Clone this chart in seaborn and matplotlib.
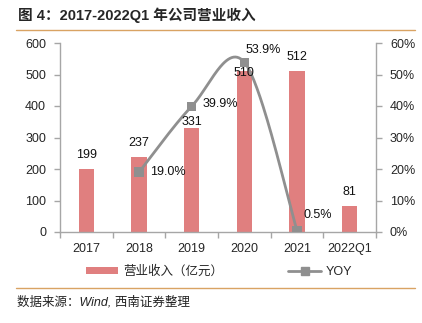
import numpy as np
import pandas as pd
import matplotlib
matplotlib.use("Agg")
import matplotlib.pyplot as plt
from matplotlib.lines import Line2D
from matplotlib.patches import Patch
import seaborn as sns

# ---- data ----
categories = ["2017", "2018", "2019", "2020", "2021", "2022Q1"]
revenue = [199, 237, 331, 510, 512, 81]
yoy_categories = ["2018", "2019", "2020", "2021"]
yoy = [19.0, 39.9, 53.9, 0.5]
revenue_label = "营业收入（亿元）"
yoy_label = "YOY"
title = "图 4：2017-2022Q1 年公司营业收入"
source = "数据来源：Wind, 西南证券整理"

sns.set_style("white")
plt.rcParams["font.family"] = ["Liberation Sans", "Noto Sans CJK SC", "DejaVu Sans"]

BAR = "#E07F7F"
LINE = "#8F8F8F"
AX = "#A6A6A6"
ORANGE = "#D9A363"
PX = 72 / 100  # points per pixel

fig = plt.figure(figsize=(4.22, 3.23), dpi=100)
W, H = 422, 323
ax = fig.add_axes([60 / W, 1 - 232 / H, (376 - 60) / W, (232 - 43) / H])

df = pd.DataFrame({"cat": categories, "rev": revenue})
sns.barplot(data=df, x="cat", y="rev", color=BAR, width=0.29, ax=ax,
            saturation=1, edgecolor="none")
ax.set_xlim(-0.5, len(categories) - 0.5)
ax.set_ylim(0, 600)
ax.set_yticks(range(0, 601, 100))
ax.set_xlabel("")
ax.set_ylabel("")

# axes style
for s in ["top", "right"]:
    ax.spines[s].set_visible(False)
for s in ["left", "bottom"]:
    ax.spines[s].set_color(AX)
    ax.spines[s].set_linewidth(1.0)
ax.tick_params(axis="y", direction="out", length=4, width=1, color=AX,
               labelsize=9, pad=6, left=True)
ax.set_xticks(np.arange(len(categories)))
ax.set_xticklabels(categories)
ax.tick_params(axis="x", length=0, labelsize=9, pad=8)
ax.set_xticks(np.arange(len(categories) + 1) - 0.5, minor=True)
ax.tick_params(axis="x", which="minor", direction="out", length=4, width=1,
               color=AX, bottom=True)

# YOY axis
ax2 = ax.twinx()
ax2.set_ylim(0, 60)
ax2.set_yticks(range(0, 61, 10))
ax2.set_yticklabels([f"{t}%" for t in range(0, 61, 10)])
for s in ["top", "left", "bottom"]:
    ax2.spines[s].set_visible(False)
ax2.spines["right"].set_color(AX)
ax2.spines["right"].set_linewidth(1.0)
ax2.tick_params(axis="y", direction="out", length=4, width=1, color=AX,
                labelsize=9, pad=6, right=True)

xs = np.array([categories.index(c) for c in yoy_categories], dtype=float)
ys = np.array(yoy, dtype=float)

# smoothed rendering of the line (Catmull-Rom style, as the original chart)
pts = np.column_stack([xs, ys])
ext = np.vstack([pts[0], pts, pts[-1]])
curve = []
for k in range(1, len(ext) - 2):
    p0, p1, p2, p3 = ext[k - 1], ext[k], ext[k + 1], ext[k + 2]
    c1 = p1 + (p2 - p0) / 6
    c2 = p2 - (p3 - p1) / 6
    t = np.linspace(0, 1, 60)[:, None]
    seg = ((1 - t) ** 3) * p1 + 3 * ((1 - t) ** 2) * t * c1 + 3 * (1 - t) * t ** 2 * c2 + t ** 3 * p2
    curve.append(seg)
curve = np.vstack(curve)
ax2.plot(curve[:, 0], curve[:, 1], color=LINE, lw=2, solid_capstyle="round", zorder=3)
sns.scatterplot(x=xs, y=ys, marker="s", s=45, color=LINE, edgecolor="none",
                ax=ax2, zorder=4, legend=False)

# bar value labels (offsets in pixels above bar top), drawn on top of the line
bar_offsets = [14, 14, 6, -2, 14, 14]
for i, (v, off) in enumerate(zip(revenue, bar_offsets)):
    ax2.annotate(str(v), (i, v), xycoords=ax.transData,
                 xytext=(0, off * PX), textcoords="offset points",
                 ha="center", va="center", fontsize=9, color="#111111", zorder=6)

# YOY label offsets in pixels (dx right, dy up)
yoy_offsets = [(29, 0), (29, 2), (19, 12), (21, 15)]
for x, y, (dx, dy) in zip(xs, ys, yoy_offsets):
    ax2.annotate(f"{y:.1f}%", (x, y), xytext=(dx * PX, dy * PX), textcoords="offset points",
                 ha="center", va="center", fontsize=9, color="#111111", zorder=6)

# legend
handles = [Patch(facecolor=BAR, edgecolor="none"),
           Line2D([0], [0], color=LINE, lw=2, marker="s", markersize=6)]
leg = fig.legend(handles, [revenue_label, yoy_label], loc="center",
                 bbox_to_anchor=(219 / W, 1 - 272 / H), ncol=2, frameon=False,
                 fontsize=9, handlelength=2.6, handleheight=0.45,
                 columnspacing=5.2, handletextpad=0.4)

# title, rules, source
fig.text(18 / W, 1 - 15 / H, title, fontsize=10.5, fontweight="bold",
         ha="left", va="center", family=["Liberation Sans", "Noto Sans CJK SC"])
fig.add_artist(Line2D([16 / W, 415 / W], [1 - 30 / H, 1 - 30 / H], color=ORANGE, lw=1))
fig.add_artist(Line2D([16 / W, 415 / W], [1 - 288 / H, 1 - 288 / H], color=ORANGE, lw=1))
fig.text(17 / W, 1 - 302 / H, source, fontsize=9, style="italic",
         ha="left", va="center", color="#222222",
         family=["Liberation Sans", "Noto Sans CJK SC"])

fig.savefig("out.png", dpi=100)
